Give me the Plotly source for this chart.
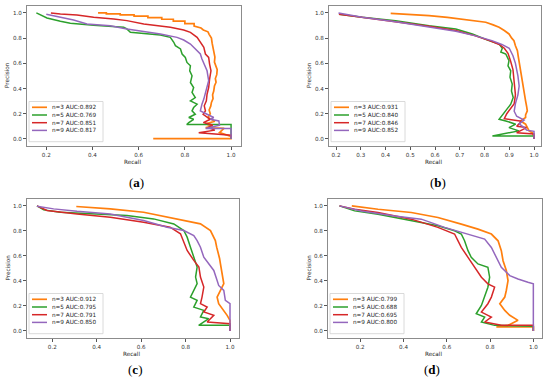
import plotly.graph_objects as go

# ---------------- data ----------------
n_values = [3, 5, 7, 9]
auc_a = [0.892, 0.769, 0.851, 0.817]
auc_b = [0.931, 0.840, 0.846, 0.852]
auc_c = [0.912, 0.795, 0.791, 0.850]
auc_d = [0.799, 0.688, 0.695, 0.800]
panel_labels = ["a", "b", "c", "d"]
x_ticks_a = [0.2, 0.4, 0.6, 0.8, 1.0]
x_ticks_b = [0.2, 0.3, 0.4, 0.5, 0.6, 0.7, 0.8, 0.9, 1.0]
x_ticks_c = [0.2, 0.4, 0.6, 0.8, 1.0]
x_ticks_d = [0.2, 0.4, 0.6, 0.8, 1.0]
y_ticks = [0.0, 0.2, 0.4, 0.6, 0.8, 1.0]

# panel (a)
a_n3_recall = [0.424, 0.46, 0.46, 0.52, 0.52, 0.58, 0.58, 0.64, 0.64, 0.70, 0.70, 0.75, 0.75, 0.80, 0.80, 0.84, 0.84, 0.87, 0.88, 0.90, 0.905, 0.915, 0.918, 0.922, 0.925, 0.93, 0.928, 0.935, 0.94, 0.938, 0.932, 0.935, 0.928, 0.925, 0.92, 0.922, 0.915, 0.912, 0.905, 0.91, 0.90, 0.93, 0.89, 0.92, 0.89, 0.97, 0.95, 1.0, 1.0, 0.663]
a_n3_precision = [1.0, 1.0, 0.993, 0.993, 0.985, 0.985, 0.975, 0.975, 0.963, 0.963, 0.95, 0.95, 0.935, 0.935, 0.915, 0.915, 0.895, 0.88, 0.865, 0.85, 0.83, 0.80, 0.76, 0.73, 0.69, 0.65, 0.61, 0.58, 0.55, 0.51, 0.48, 0.45, 0.42, 0.38, 0.35, 0.32, 0.29, 0.26, 0.23, 0.20, 0.17, 0.14, 0.12, 0.10, 0.09, 0.085, 0.05, 0.02, 0.003, 0.003]
a_n5_recall = [0.157, 0.203, 0.261, 0.304, 0.405, 0.535, 0.549, 0.564, 0.694, 0.737, 0.752, 0.759, 0.781, 0.788, 0.802, 0.809, 0.824, 0.821, 0.831, 0.824, 0.838, 0.831, 0.845, 0.824, 0.853, 0.838, 0.831, 0.845, 0.817, 0.838, 0.817, 0.808, 1.0, 1.0]
a_n5_precision = [1.0, 0.960, 0.934, 0.918, 0.902, 0.886, 0.873, 0.846, 0.825, 0.806, 0.767, 0.740, 0.714, 0.674, 0.647, 0.607, 0.581, 0.541, 0.501, 0.448, 0.408, 0.369, 0.329, 0.302, 0.276, 0.249, 0.223, 0.196, 0.170, 0.156, 0.130, 0.115, 0.115, 0.0]
a_n7_recall = [0.22, 0.261, 0.333, 0.405, 0.492, 0.549, 0.622, 0.694, 0.737, 0.795, 0.824, 0.853, 0.867, 0.882, 0.889, 0.903, 0.907, 0.913, 0.907, 0.903, 0.896, 0.893, 0.884, 0.889, 0.879, 0.896, 0.910, 0.88, 0.92, 0.90, 0.93, 0.86, 0.95, 1.0, 1.0]
a_n7_precision = [1.0, 0.992, 0.984, 0.966, 0.952, 0.939, 0.912, 0.899, 0.886, 0.865, 0.846, 0.806, 0.767, 0.727, 0.674, 0.647, 0.594, 0.541, 0.475, 0.408, 0.355, 0.302, 0.263, 0.223, 0.196, 0.170, 0.156, 0.13, 0.11, 0.09, 0.07, 0.05, 0.04, 0.03, 0.01]
a_n9_recall = [0.20, 0.261, 0.318, 0.376, 0.477, 0.549, 0.622, 0.694, 0.766, 0.795, 0.824, 0.846, 0.867, 0.874, 0.882, 0.896, 0.903, 0.896, 0.889, 0.882, 0.874, 0.867, 0.896, 0.925, 0.91, 0.947, 0.95, 0.89, 1.0, 1.0]
a_n9_precision = [0.99, 0.966, 0.944, 0.912, 0.899, 0.873, 0.854, 0.833, 0.806, 0.785, 0.753, 0.714, 0.674, 0.634, 0.594, 0.541, 0.462, 0.408, 0.355, 0.316, 0.276, 0.223, 0.196, 0.170, 0.156, 0.143, 0.109, 0.083, 0.083, 0.0]

# panel (b)
b_n3_recall = [0.421, 0.50, 0.576, 0.65, 0.71, 0.76, 0.805, 0.835, 0.859, 0.88, 0.899, 0.91, 0.919, 0.925, 0.933, 0.936, 0.939, 0.943, 0.946, 0.95, 0.953, 0.957, 0.96, 0.963, 0.966, 0.97, 0.973, 0.966, 0.966, 0.946, 0.966, 0.98, 0.993, 1.0, 1.0]
b_n3_precision = [0.997, 0.99, 0.979, 0.965, 0.952, 0.94, 0.926, 0.905, 0.886, 0.86, 0.833, 0.80, 0.78, 0.74, 0.70, 0.66, 0.621, 0.58, 0.541, 0.50, 0.462, 0.42, 0.382, 0.34, 0.302, 0.26, 0.223, 0.19, 0.170, 0.143, 0.117, 0.064, 0.05, 0.02, 0.0]
b_n5_recall = [0.212, 0.306, 0.441, 0.576, 0.684, 0.751, 0.818, 0.859, 0.872, 0.866, 0.886, 0.899, 0.895, 0.906, 0.903, 0.912, 0.909, 0.916, 0.906, 0.886, 0.859, 0.886, 0.926, 0.899, 0.939, 0.832, 1.0, 1.0]
b_n5_precision = [0.99, 0.966, 0.939, 0.899, 0.873, 0.833, 0.78, 0.753, 0.72, 0.69, 0.674, 0.621, 0.58, 0.541, 0.49, 0.435, 0.38, 0.329, 0.276, 0.223, 0.156, 0.143, 0.117, 0.09, 0.064, 0.024, 0.024, 0.0]
b_n7_recall = [0.212, 0.306, 0.441, 0.576, 0.684, 0.76, 0.82, 0.86, 0.88, 0.895, 0.905, 0.915, 0.92, 0.925, 0.92, 0.905, 0.89, 0.88, 0.91, 0.95, 0.93, 0.97, 0.93, 1.0, 1.0]
b_n7_precision = [0.99, 0.966, 0.935, 0.895, 0.86, 0.82, 0.78, 0.75, 0.72, 0.68, 0.62, 0.55, 0.45, 0.35, 0.28, 0.24, 0.20, 0.16, 0.15, 0.14, 0.10, 0.09, 0.05, 0.04, 0.0]
b_n9_recall = [0.21, 0.306, 0.441, 0.576, 0.684, 0.76, 0.83, 0.87, 0.90, 0.915, 0.925, 0.935, 0.94, 0.935, 0.925, 0.92, 0.93, 0.96, 0.94, 0.96, 0.97, 1.0, 1.0]
b_n9_precision = [1.0, 0.966, 0.93, 0.89, 0.855, 0.82, 0.78, 0.75, 0.72, 0.66, 0.60, 0.50, 0.42, 0.35, 0.28, 0.22, 0.18, 0.15, 0.12, 0.09, 0.07, 0.06, 0.0]

# panel (c)
c_n3_recall = [0.308, 0.461, 0.611, 0.717, 0.807, 0.867, 0.912, 0.925, 0.934, 0.94, 0.949, 0.953, 0.957, 0.96, 0.964, 0.968, 0.972, 0.957, 0.942, 0.949, 0.972, 0.987, 1.0, 1.0]
c_n3_precision = [0.995, 0.976, 0.949, 0.91, 0.883, 0.856, 0.803, 0.76, 0.723, 0.67, 0.617, 0.58, 0.537, 0.50, 0.457, 0.42, 0.378, 0.324, 0.271, 0.218, 0.165, 0.125, 0.085, 0.0]
c_n5_recall = [0.131, 0.161, 0.236, 0.386, 0.536, 0.656, 0.747, 0.792, 0.807, 0.822, 0.837, 0.852, 0.845, 0.852, 0.822, 0.852, 0.837, 0.882, 0.867, 0.904, 0.859, 1.0, 1.0]
c_n5_precision = [1.0, 0.968, 0.949, 0.936, 0.923, 0.896, 0.856, 0.803, 0.75, 0.67, 0.59, 0.511, 0.431, 0.378, 0.271, 0.245, 0.191, 0.165, 0.112, 0.098, 0.045, 0.045, 0.0]
c_n7_recall = [0.131, 0.176, 0.311, 0.461, 0.611, 0.73, 0.777, 0.79, 0.807, 0.837, 0.86, 0.867, 0.882, 0.874, 0.867, 0.897, 0.882, 0.927, 0.897, 1.0, 1.0]
c_n7_precision = [1.0, 0.963, 0.936, 0.91, 0.87, 0.83, 0.777, 0.723, 0.644, 0.564, 0.511, 0.431, 0.351, 0.271, 0.218, 0.191, 0.152, 0.125, 0.072, 0.058, 0.0]
c_n9_recall = [0.131, 0.206, 0.311, 0.461, 0.611, 0.717, 0.792, 0.837, 0.852, 0.867, 0.882, 0.904, 0.927, 0.942, 0.949, 0.972, 0.979, 1.0, 1.0]
c_n9_precision = [0.997, 0.976, 0.957, 0.936, 0.883, 0.83, 0.803, 0.763, 0.723, 0.67, 0.59, 0.537, 0.484, 0.404, 0.364, 0.324, 0.245, 0.218, 0.0]

# panel (d)
d_n3_recall = [0.161, 0.282, 0.436, 0.559, 0.667, 0.744, 0.806, 0.837, 0.852, 0.86, 0.875, 0.883, 0.875, 0.868, 0.845, 0.868, 0.891, 0.929, 0.883, 0.829, 1.0, 1.0]
d_n3_precision = [1.0, 0.973, 0.947, 0.907, 0.854, 0.814, 0.775, 0.721, 0.642, 0.562, 0.483, 0.403, 0.324, 0.271, 0.218, 0.164, 0.125, 0.085, 0.045, 0.032, 0.032, 0.0]
d_n5_recall = [0.104, 0.174, 0.282, 0.436, 0.559, 0.636, 0.667, 0.682, 0.698, 0.713, 0.744, 0.79, 0.798, 0.79, 0.775, 0.76, 0.736, 0.775, 0.76, 0.821, 1.0, 1.0]
d_n5_precision = [1.0, 0.96, 0.934, 0.881, 0.841, 0.801, 0.775, 0.721, 0.642, 0.589, 0.536, 0.509, 0.43, 0.35, 0.271, 0.204, 0.138, 0.111, 0.072, 0.045, 0.037, 0.0]
d_n7_recall = [0.104, 0.174, 0.282, 0.436, 0.559, 0.636, 0.652, 0.667, 0.698, 0.729, 0.76, 0.79, 0.821, 0.806, 0.79, 0.76, 0.806, 0.775, 0.852, 1.0, 1.0]
d_n7_precision = [1.0, 0.973, 0.947, 0.894, 0.828, 0.775, 0.721, 0.668, 0.589, 0.509, 0.43, 0.377, 0.35, 0.271, 0.218, 0.151, 0.111, 0.072, 0.045, 0.045, 0.0]
d_n9_recall = [0.104, 0.205, 0.359, 0.482, 0.59, 0.698, 0.775, 0.806, 0.829, 0.852, 0.891, 0.929, 0.975, 1.0, 1.0]
d_n9_precision = [1.0, 0.96, 0.92, 0.894, 0.828, 0.775, 0.735, 0.668, 0.589, 0.509, 0.443, 0.416, 0.39, 0.377, 0.0]

series_colors = ["#ff7f0e", "#2ca02c", "#d62728", "#9467bd"]

panels = [
    dict(curves=[(a_n3_recall, a_n3_precision), (a_n5_recall, a_n5_precision),
                 (a_n7_recall, a_n7_precision), (a_n9_recall, a_n9_precision)],
         auc=auc_a, xticks=x_ticks_a, xrange=[0.1165, 1.043],
         box=(27, 241, 6, 146), label_xy=(136.5, 182)),
    dict(curves=[(b_n3_recall, b_n3_precision), (b_n5_recall, b_n5_precision),
                 (b_n7_recall, b_n7_precision), (b_n9_recall, b_n9_precision)],
         auc=auc_b, xticks=x_ticks_b, xrange=[0.1717, 1.0283],
         box=(329, 541, 6, 146), label_xy=(437.5, 182)),
    dict(curves=[(c_n3_recall, c_n3_precision), (c_n5_recall, c_n5_precision),
                 (c_n7_recall, c_n7_precision), (c_n9_recall, c_n9_precision)],
         auc=auc_c, xticks=x_ticks_c, xrange=[0.086, 1.0405],
         box=(27, 239, 199, 338), label_xy=(135, 369.5)),
    dict(curves=[(d_n3_recall, d_n3_precision), (d_n5_recall, d_n5_precision),
                 (d_n7_recall, d_n7_precision), (d_n9_recall, d_n9_precision)],
         auc=auc_d, xticks=x_ticks_d, xrange=[0.051, 1.040],
         box=(328, 542, 199, 338), label_xy=(432, 369.5)),
]

W, H = 550, 392
def px(x):
    return x / W
def py(y):
    return 1 - y / H

FONT = "DejaVu Sans"
fig = go.Figure()
shapes = []
annotations = []
layout_axes = {}

for i, p in enumerate(panels):
    L, R, T, B = p["box"]
    xa = "x" if i == 0 else f"x{i+1}"
    ya = "y" if i == 0 else f"y{i+1}"
    xkey = "xaxis" if i == 0 else f"xaxis{i+1}"
    ykey = "yaxis" if i == 0 else f"yaxis{i+1}"
    axis_common = dict(showgrid=False, zeroline=False, showline=True, mirror=True,
                       automargin=False,
                       linecolor="#8c8c8c", linewidth=1, ticks="outside", ticklen=3,
                       tickwidth=0.8, tickcolor="#555555",
                       tickfont=dict(family=FONT, size=5.6, color="#333333"))
    layout_axes[xkey] = dict(domain=[px(L), px(R)], range=p["xrange"], anchor=ya,
                             tickmode="array", tickvals=p["xticks"],
                             ticktext=[f"{v:.1f}" for v in p["xticks"]], **axis_common)
    layout_axes[ykey] = dict(domain=[py(B), py(T)], range=[-0.056, 1.055], anchor=xa,
                             tickmode="array", tickvals=y_ticks,
                             ticktext=[f"{v:.1f}" for v in y_ticks], **axis_common)
    for k, (rx, pr) in enumerate(p["curves"]):
        fig.add_trace(go.Scatter(x=rx, y=pr, mode="lines", xaxis=xa, yaxis=ya,
                                 line=dict(color=series_colors[k], width=1.7 if k == 0 else 1.5),
                                 showlegend=False, hoverinfo="skip"))
    # legend box
    shapes.append(dict(type="rect", xref="paper", yref="paper",
                       x0=px(L + 2), x1=px(L + 76), y0=py(B - 4.3), y1=py(B - 44.5),
                       line=dict(color="#d0d0d0", width=0.8), fillcolor="rgba(255,255,255,0.85)",
                       layer="above"))
    rows = [B - 38.7, B - 31.0, B - 23.3, B - 15.6]
    for k, n in enumerate(n_values):
        shapes.append(dict(type="line", xref="paper", yref="paper",
                           x0=px(L + 5), x1=px(L + 20), y0=py(rows[k]), y1=py(rows[k]),
                           line=dict(color=series_colors[k], width=1.7 if k == 0 else 1.5),
                           layer="above"))
        annotations.append(dict(xref="paper", yref="paper", x=px(L + 23), y=py(rows[k]),
                                text=f"n={n} AUC:{p['auc'][k]:.3f}", showarrow=False,
                                xanchor="left", yanchor="middle",
                                font=dict(family=FONT, size=5.7, color="#222222")))
    # axis titles
    annotations.append(dict(xref="paper", yref="paper", x=px((L + R) / 2 - 2), y=py(B + 15.5),
                            text="Recall", showarrow=False, xanchor="center", yanchor="middle",
                            font=dict(family=FONT, size=5.7, color="#222222")))
    annotations.append(dict(xref="paper", yref="paper", x=px(L - 20), y=py((T + B) / 2 - 1),
                            text="Precision", showarrow=False, textangle=-90,
                            xanchor="center", yanchor="middle",
                            font=dict(family=FONT, size=5.7, color="#222222")))
    # panel label
    lx, ly = p["label_xy"]
    annotations.append(dict(xref="paper", yref="paper", x=px(lx), y=py(ly),
                            text=f"(<b>{panel_labels[i]}</b>)", showarrow=False,
                            xanchor="center", yanchor="middle",
                            font=dict(family="Liberation Serif", size=13, color="#000000")))

fig.update_layout(template="none", width=W, height=H, margin=dict(l=0, r=0, t=0, b=0),
                  paper_bgcolor="white", plot_bgcolor="white",
                  shapes=shapes, annotations=annotations, **layout_axes)

fig.write_html("out.html", config={"displayModeBar": False},
               post_script="document.body.style.margin='0';document.body.style.padding='0';")
